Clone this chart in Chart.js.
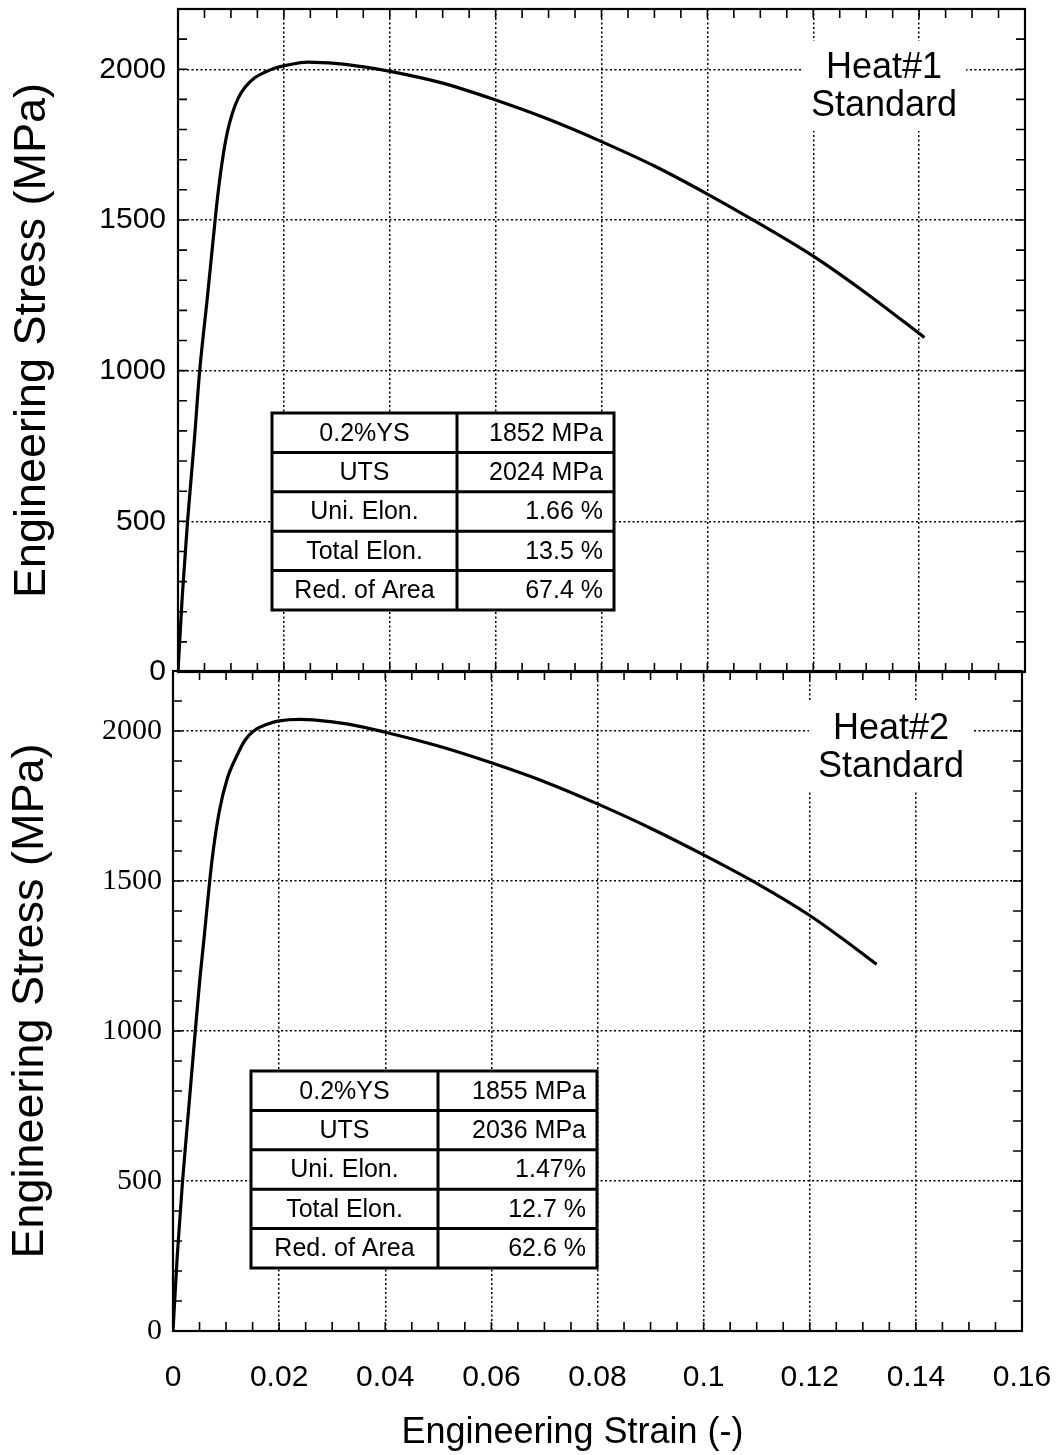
<!DOCTYPE html>
<html>
<head>
<meta charset="utf-8">
<script src="https://cdn.jsdelivr.net/npm/chart.js@4.4.0/dist/chart.umd.min.js"></script>
<style>
  body { margin: 0; background: #fff; }
  #wrap { position: relative; width: 1061px; height: 1455px; background: #fff; }
  canvas { position: absolute; left: 0; }
</style>
</head>
<body>
<div id="wrap">
  <canvas id="heat1Chart" width="1061" height="690" style="top:0"></canvas>
  <canvas id="heat2Chart" width="1061" height="795" style="top:660px"></canvas>
</div>
<script>
const SANS = '"Liberation Sans", Arial, Helvetica, sans-serif';
const SERIF = '"Liberation Serif", "Times New Roman", serif';

// axes
const xTicks = [0, 0.02, 0.04, 0.06, 0.08, 0.1, 0.12, 0.14, 0.16];
const xTickLabels = ['0', '0.02', '0.04', '0.06', '0.08', '0.1', '0.12', '0.14', '0.16'];
const yTicks = [0, 500, 1000, 1500, 2000];
const yTickLabels = ['0', '500', '1000', '1500', '2000'];

// Heat#1 curve (strain, MPa)
const strainHeat1 = [0, 0.0008, 0.0018, 0.0030, 0.0041, 0.0055, 0.0069, 0.0075, 0.0084, 0.0093, 0.0102,
  0.0114, 0.0127, 0.0145, 0.0165, 0.0185, 0.0204, 0.0245, 0.0301, 0.0351, 0.0401, 0.050, 0.060,
  0.070, 0.080, 0.090, 0.100, 0.110, 0.120, 0.130, 0.141];
const stressHeat1 = [0, 250, 500, 750, 1000, 1235, 1480, 1580, 1700, 1790, 1850,
  1905, 1941, 1972, 1991, 2005, 2013, 2024, 2019, 2008, 1993, 1954, 1898,
  1834, 1760, 1679, 1586, 1486, 1380, 1257, 1110];

// Heat#2 curve (strain, MPa)
const strainHeat2 = [0, 0.0008, 0.0018, 0.0030, 0.0042, 0.0051, 0.0058, 0.0068, 0.0075, 0.0087, 0.0102,
  0.0121, 0.0136, 0.0152, 0.0183, 0.0200, 0.0239, 0.0264, 0.0333, 0.040, 0.050, 0.060,
  0.070, 0.080, 0.090, 0.100, 0.110, 0.120, 0.126, 0.1326];
const stressHeat2 = [0, 250, 500, 750, 1000, 1180, 1300, 1480, 1590, 1730, 1840,
  1920, 1970, 2000, 2026, 2034, 2039, 2037, 2022, 1996, 1950, 1894,
  1831, 1757, 1676, 1587, 1492, 1385, 1310, 1222];

// property tables
const propNames = ['0.2%YS', 'UTS', 'Uni. Elon.', 'Total Elon.', 'Red. of Area'];
const propHeat1 = ['1852 MPa', '2024 MPa', '1.66 %', '13.5 %', '67.4 %'];
const propHeat2 = ['1855 MPa', '2036 MPa', '1.47%', '12.7 %', '62.6 %'];

// inner ticks on all four sides + frame
const frameTicks = {
  id: 'frameTicks',
  afterDatasetsDraw(chart) {
    const { ctx, chartArea: a, scales: { x, y } } = chart;
    ctx.save();
    ctx.strokeStyle = '#000';
    ctx.lineWidth = 1.6;
    ctx.beginPath();
    for (let i = 1; i < 32; i++) {
      const px = x.getPixelForValue(i * 0.005);
      ctx.moveTo(px, a.bottom); ctx.lineTo(px, a.bottom - 9);
      ctx.moveTo(px, a.top); ctx.lineTo(px, a.top + 9);
    }
    for (let i = 1; i < 22; i++) {
      const py = y.getPixelForValue(i * 100);
      ctx.moveTo(a.left, py); ctx.lineTo(a.left + 9, py);
      ctx.moveTo(a.right, py); ctx.lineTo(a.right - 9, py);
    }
    ctx.stroke();
    ctx.lineWidth = 2.2;
    ctx.strokeRect(a.left, a.top, a.right - a.left, a.bottom - a.top);
    ctx.restore();
  }
};

// heat label + property table
const panelNotes = {
  id: 'panelNotes',
  beforeDatasetsDraw(chart, args, o) {
    const ctx = chart.ctx;
    ctx.save();
    // heat label
    ctx.fillStyle = '#fff';
    ctx.fillRect(o.label.x - 82, o.label.y - 27, 164, 90);
    ctx.fillStyle = '#000';
    ctx.font = '36px ' + SANS;
    ctx.textAlign = 'center';
    ctx.textBaseline = 'middle';
    ctx.fillText(o.label.lines[0], o.label.x, o.label.y);
    ctx.fillText(o.label.lines[1], o.label.x, o.label.y + 38);

    // table
    const t = o.table;
    const rows = propNames.length;
    const w = t.w1 + t.w2;
    ctx.fillStyle = '#fff';
    ctx.fillRect(t.x, t.y, w, t.rowH * rows);
    ctx.strokeStyle = '#000';
    ctx.lineWidth = 3;
    ctx.strokeRect(t.x, t.y, w, t.rowH * rows);
    ctx.beginPath();
    ctx.moveTo(t.x + t.w1, t.y); ctx.lineTo(t.x + t.w1, t.y + t.rowH * rows);
    for (let i = 1; i < rows; i++) {
      ctx.moveTo(t.x, t.y + i * t.rowH); ctx.lineTo(t.x + w, t.y + i * t.rowH);
    }
    ctx.stroke();
    ctx.fillStyle = '#000';
    ctx.font = '25px ' + SANS;
    for (let i = 0; i < rows; i++) {
      const cy = t.y + (i + 0.5) * t.rowH + 1;
      ctx.textAlign = 'center';
      ctx.fillText(propNames[i], t.x + t.w1 / 2, cy);
      ctx.textAlign = 'right';
      ctx.fillText(t.values[i], t.x + w - 11, cy);
    }
    ctx.restore();
  }
};

function makeXScale(showLabels, axisHeight) {
  return {
    type: 'linear',
    min: 0,
    max: 0.16,
    afterBuildTicks: s => { s.ticks = xTicks.map(v => ({ value: v })); },
    afterFit: s => {
      s.height = axisHeight;
      s.paddingLeft = 0;
      s.paddingRight = 0;
    },
    grid: { color: '#000', lineWidth: 1.5, drawTicks: false },
    border: { display: false, dash: [2, 2.5] },
    ticks: {
      display: showLabels,
      autoSkip: false,
      maxRotation: 0,
      padding: 29,
      color: '#000',
      font: { family: SANS, size: 30 },
      callback: (v, i) => xTickLabels[i]
    },
    title: {
      display: showLabels,
      // trailing spaces shift the centred title a little left, as in the original
      text: 'Engineering Strain (-)\u00a0\u00a0\u00a0\u00a0\u00a0',
      color: '#000',
      padding: { top: 0, bottom: 0 },
      font: { family: SANS, size: 36 }
    }
  };
}

function makeYScale(axisWidth, family, pad) {
  return {
    type: 'linear',
    min: 0,
    max: 2200,
    afterBuildTicks: s => { s.ticks = yTicks.map(v => ({ value: v })); },
    afterFit: s => {
      s.width = axisWidth;
      s.paddingTop = 0;
      s.paddingBottom = 0;
    },
    grid: { color: '#000', lineWidth: 1.5, drawTicks: false },
    border: { display: false, dash: [2, 2.5] },
    ticks: {
      padding: pad,
      color: '#000',
      font: { family: family, size: 30 },
      callback: (v, i) => yTickLabels[i]
    },
    title: {
      display: true,
      text: 'Engineering Stress (MPa)',
      color: '#000',
      padding: { top: 0, bottom: 0 },
      font: { family: SANS, size: 45 }
    }
  };
}

function toPoints(xs, ys) {
  return xs.map((v, i) => ({ x: v, y: ys[i] }));
}

const lineStyle = {
  borderColor: '#000',
  borderWidth: 3.2,
  pointRadius: 0,
  showLine: true,
  fill: false,
  cubicInterpolationMode: 'monotone'
};

// Heat#1 panel
const heat1Ctx = document.getElementById('heat1Chart').getContext('2d');
const heat1Chart = new Chart(heat1Ctx, {
  type: 'scatter',
  data: {
    datasets: [Object.assign({ label: 'Heat#1', data: toPoints(strainHeat1, stressHeat1) }, lineStyle)]
  },
  options: {
    responsive: false,
    animation: false,
    layout: { padding: { left: 6, right: 36, top: 9, bottom: 0 } },
    plugins: {
      legend: { display: false },
      tooltip: { enabled: false },
      panelNotes: {
        label: { x: 884, y: 68, lines: ['Heat#1', 'Standard'] },
        table: { x: 272, y: 413, w1: 185, w2: 157, rowH: 39.4, values: propHeat1 }
      }
    },
    scales: {
      x: makeXScale(false, 18),
      y: makeYScale(172, SANS, 12)
    }
  },
  plugins: [panelNotes, frameTicks]
});

// Heat#2 panel
const heat2Ctx = document.getElementById('heat2Chart').getContext('2d');
const heat2Chart = new Chart(heat2Ctx, {
  type: 'scatter',
  data: {
    datasets: [Object.assign({ label: 'Heat#2', data: toPoints(strainHeat2, stressHeat2) }, lineStyle)]
  },
  options: {
    responsive: false,
    animation: false,
    layout: { padding: { left: 4, right: 39, top: 11, bottom: 0 } },
    plugins: {
      legend: { display: false },
      tooltip: { enabled: false },
      panelNotes: {
        label: { x: 891, y: 69, lines: ['Heat#2', 'Standard'] },
        table: { x: 251, y: 411, w1: 187, w2: 159, rowH: 39.4, values: propHeat2 }
      }
    },
    scales: {
      x: makeXScale(true, 124),
      y: makeYScale(169, SERIF, 11)
    }
  },
  plugins: [panelNotes, frameTicks]
});
</script>
</body>
</html>
